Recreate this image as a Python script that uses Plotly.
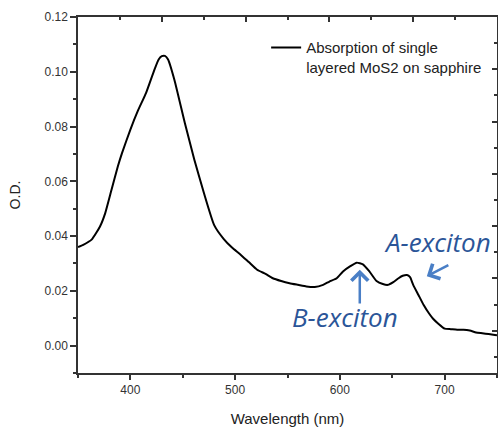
import plotly.graph_objects as go

# Data (wavelength in nm, optical density)
wavelength = [350, 355, 363, 371, 376, 382, 388, 392, 400, 407, 415, 423, 427, 430, 433, 436,
              442, 452, 461, 470, 480, 489, 497, 505, 513, 521, 529, 536, 544, 552, 560, 568,
              576, 584, 590, 597, 603, 610, 616, 622, 628, 635, 641, 646, 651, 656, 660, 664,
              667, 670, 675, 680, 685, 689, 694, 700, 706, 712, 718, 724, 730, 736, 742, 748, 750]
od = [0.0360, 0.0368, 0.0387, 0.0435, 0.0484, 0.0569, 0.0654, 0.0703, 0.0789, 0.0856, 0.0923,
      0.1008, 0.1045, 0.1057, 0.1058, 0.1045, 0.0971, 0.0813, 0.0680, 0.0560, 0.0440, 0.0390,
      0.0358, 0.0333, 0.0305, 0.0277, 0.0262, 0.0246, 0.0236, 0.0228, 0.0222, 0.0216, 0.0214,
      0.0222, 0.0234, 0.0246, 0.0271, 0.0290, 0.0303, 0.0297, 0.0272, 0.0236, 0.0225, 0.0222,
      0.0232, 0.0246, 0.0255, 0.0258, 0.0250, 0.0222, 0.0185, 0.0148, 0.0118, 0.0098, 0.0080,
      0.0062, 0.0060, 0.0058, 0.0058, 0.0055, 0.0048, 0.0045, 0.0042, 0.0039, 0.0038]

series_name = "Absorption of single<br>layered MoS2 on sapphire"
x_title = "Wavelength (nm)"
y_title = "O.D."
x_ticks = [400, 500, 600, 700]
y_ticks = [0.00, 0.02, 0.04, 0.06, 0.08, 0.10, 0.12]

a_label = "A-exciton"
b_label = "B-exciton"

axis_color = "#333333"
text_blue = "#2B5598"
arrow_blue = "#4A7FC6"

fig = go.Figure()
fig.add_trace(go.Scatter(x=wavelength, y=od, mode="lines", name=series_name,
                         line=dict(color="black", width=2, shape="spline", smoothing=0.5)))
# helper trace for the top/right frame axes
fig.add_trace(go.Scatter(x=[None], y=[None], xaxis="x2", yaxis="y2", showlegend=False,
                         hoverinfo="skip"))

tickfont = dict(family="Liberation Sans, Arial", size=12, color="#333333")

fig.update_layout(
    width=498, height=428,
    margin=dict(l=78, r=1, t=17, b=55),
    paper_bgcolor="white", plot_bgcolor="white",
    xaxis=dict(range=[350, 750], tickvals=x_ticks, ticks="outside", ticklen=5, tickwidth=1.5,
               tickcolor=axis_color, showline=True, linecolor=axis_color, linewidth=1.5,
               showgrid=False, zeroline=False, tickfont=tickfont,
               minor=dict(tickvals=[350, 450, 550, 650, 750], ticks="outside", ticklen=3,
                          tickwidth=1.5, tickcolor=axis_color),
               title=dict(text=x_title, font=dict(family="Liberation Sans, Arial", size=15,
                                                  color="#222222"), standoff=17)),
    yaxis=dict(range=[-0.01, 0.12], tickvals=y_ticks, tickformat=".2f", ticks="outside",
               ticklen=6, tickwidth=1.5, tickcolor=axis_color, showline=True,
               linecolor=axis_color, linewidth=1.5, showgrid=False, zeroline=False,
               tickfont=tickfont,
               minor=dict(tickvals=[-0.01, 0.01, 0.03, 0.05, 0.07, 0.09, 0.11], ticks="outside",
                          ticklen=3, tickwidth=1.5, tickcolor=axis_color),
               title=dict(text=y_title, font=dict(family="Liberation Sans, Arial", size=14,
                                                  color="#222222"), standoff=21)),
    xaxis2=dict(overlaying="x", side="top", range=[0, 5], dtick=1, ticks="inside", ticklen=5,
                tickwidth=1.5, tickcolor=axis_color, showticklabels=False, showline=True,
                linecolor=axis_color, linewidth=1.5, showgrid=False, zeroline=False,
                minor=dict(dtick=0.5, ticks="inside", ticklen=3, tickwidth=1.5,
                           tickcolor=axis_color), anchor="y2"),
    yaxis2=dict(overlaying="y", side="right", range=[0.19, 7.0], dtick=1, ticks="inside",
                ticklen=5, tickwidth=1.5, tickcolor=axis_color, showticklabels=False,
                showline=True, linecolor=axis_color, linewidth=1.5, showgrid=False,
                zeroline=False, anchor="x2",
                minor=dict(dtick=0.5, ticks="inside", ticklen=3, tickwidth=1.5,
                           tickcolor=axis_color)),
    showlegend=True,
    legend=dict(x=0.449, y=0.96, xanchor="left", yanchor="top", bgcolor="rgba(0,0,0,0)",
                font=dict(family="Liberation Sans, Arial", size=15, color="#222222"),
                valign="top", itemwidth=30),
)

ann_font = dict(family="Open Sans, Noto Sans", size=26, color=text_blue)
fig.add_annotation(x=693, y=0.0379, xref="x", yref="y", text="<i>" + a_label + "</i>",
                   showarrow=False, font=ann_font)
fig.add_annotation(x=605, y=0.0105, xref="x", yref="y", text="<i>" + b_label + "</i>",
                   showarrow=False, font=ann_font)
# B arrow (pointing up at the B peak)
fig.add_annotation(x=619, y=0.0277, ax=619, ay=0.0148, xref="x", yref="y", axref="x",
                   ayref="y", text="", showarrow=True, arrowhead=4, arrowsize=1.3,
                   arrowwidth=2.5, arrowcolor=arrow_blue)
# A arrow (pointing down-left at the A peak)
fig.add_annotation(x=683, y=0.0253, ax=705, ay=0.0297, xref="x", yref="y", axref="x",
                   ayref="y", text="", showarrow=True, arrowhead=4, arrowsize=1.3,
                   arrowwidth=2.5, arrowcolor=arrow_blue)

fig.write_html("out.html")
